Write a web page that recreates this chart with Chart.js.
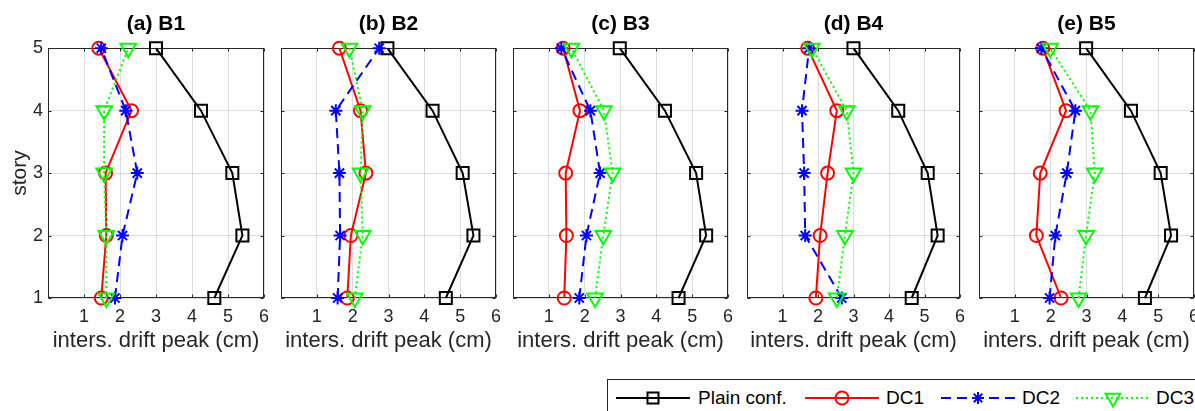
<!DOCTYPE html>
<html>
<head>
<meta charset="utf-8">
<script src="https://cdn.jsdelivr.net/npm/chart.js@4.4.1/dist/chart.umd.min.js"></script>
<style>
html, body { margin:0; padding:0; background:#fff; width:1195px; height:411px; overflow:hidden; position:relative;
  font-family:"Liberation Sans", Arial, Helvetica, sans-serif; }
canvas { position:absolute; top:0; }
#legend { position:absolute; left:607px; top:379px; width:640px; height:46px; border:1px solid #262626;
  background:#fff; box-sizing:border-box; }
#legend svg { position:absolute; top:6px; }
#legend span { position:absolute; top:6px; height:24px; line-height:24px; font-size:19px; color:#000; white-space:nowrap; }
</style>
</head>
<body>
<div id="legend"></div>
<script>
// ---------------- data ----------------
const stories = [1, 2, 3, 4, 5];
const xTickValues = [0, 1, 2, 3, 4, 5, 6];
const xTickLabels = ['', '1', '2', '3', '4', '5', '6'];
const yTickValues = [1, 2, 3, 4, 5];
const panelTitles = ['(a) B1', '(b) B2', '(c) B3', '(d) B4', '(e) B5'];
const seriesNames = ['Plain conf.', 'DC1', 'DC2', 'DC3'];
const xAxisLabel = 'inters. drift peak (cm)';
const yAxisLabel = 'story';

// values listed for story 1..5
const plain_B1 = [4.62, 5.40, 5.12, 4.25, 3.00];
const plain_B2 = [4.60, 5.37, 5.07, 4.23, 2.97];
const plain_B3 = [4.62, 5.39, 5.11, 4.24, 2.98];
const plain_B4 = [4.64, 5.37, 5.09, 4.26, 3.00];
const plain_B5 = [4.63, 5.36, 5.07, 4.24, 2.99];

const dc1_B1 = [1.48, 1.62, 1.60, 2.32, 1.41];
const dc1_B2 = [1.85, 1.95, 2.37, 2.22, 1.63];
const dc1_B3 = [1.43, 1.49, 1.47, 1.87, 1.40];
const dc1_B4 = [1.94, 2.06, 2.27, 2.53, 1.71];
const dc1_B5 = [2.29, 1.60, 1.71, 2.43, 1.78];

const dc2_B1 = [1.86, 2.07, 2.48, 2.16, 1.48];
const dc2_B2 = [1.58, 1.65, 1.63, 1.53, 2.74];
const dc2_B3 = [1.85, 2.05, 2.43, 2.16, 1.35];
const dc2_B4 = [2.67, 1.64, 1.61, 1.55, 1.75];
const dc2_B5 = [1.97, 2.13, 2.45, 2.69, 1.74];

const dc3_B1 = [1.62, 1.62, 1.56, 1.56, 2.23];
const dc3_B2 = [2.06, 2.28, 2.22, 2.28, 1.91];
const dc3_B3 = [2.29, 2.52, 2.78, 2.54, 1.63];
const dc3_B4 = [2.53, 2.76, 3.00, 2.81, 1.83];
const dc3_B5 = [2.78, 2.99, 3.23, 3.11, 1.99];

const panelSeries = [
  [plain_B1, dc1_B1, dc2_B1, dc3_B1],
  [plain_B2, dc1_B2, dc2_B2, dc3_B2],
  [plain_B3, dc1_B3, dc2_B3, dc3_B3],
  [plain_B4, dc1_B4, dc2_B4, dc3_B4],
  [plain_B5, dc1_B5, dc2_B5, dc3_B5]
];

// ---------------- styles / layout ----------------
const FONT = '"Liberation Sans", Arial, Helvetica, sans-serif';
const styles = [
  { color:'#000000', dash:[],      pointStyle:'rect',     r:8.5, rot:0 },
  { color:'#ff0000', dash:[],      pointStyle:'circle',   r:6.5, rot:0 },
  { color:'#0000ff', dash:[10,6],  pointStyle:'star',     r:6.5, rot:0 },
  { color:'#00ff00', dash:[2,3],   pointStyle:'triangle', r:9,   rot:180 }
];
const plotLeft = [48, 281, 513, 747, 979];
const plotWidth = [216, 215, 215, 213, 215];
const SIDE = 48, CANVAS_H = 360, PLOT_BOTTOM = 298;

const boxPlugin = {
  id: 'boxTicks',
  beforeDatasetsDraw(chart) {
    const { ctx, chartArea: a, scales: { x, y } } = chart;
    const L = Math.round(a.left) + 0.5, R = Math.round(a.right) - 0.5;
    const T = Math.round(a.top) + 0.5, B = Math.round(a.bottom) - 0.5;
    ctx.save();
    ctx.strokeStyle = '#262626';
    ctx.lineWidth = 1;
    ctx.strokeRect(L, T, R - L, B - T);
    ctx.beginPath();
    x.ticks.forEach(t => {
      const px = Math.round(x.getPixelForValue(t.value)) + 0.5;
      ctx.moveTo(px, B); ctx.lineTo(px, B - 3);
      ctx.moveTo(px, T); ctx.lineTo(px, T + 3);
    });
    y.ticks.forEach(t => {
      const py = Math.round(y.getPixelForValue(t.value)) + 0.5;
      ctx.moveTo(L, py); ctx.lineTo(L + 3, py);
      ctx.moveTo(R, py); ctx.lineTo(R - 3, py);
    });
    ctx.stroke();
    ctx.restore();
  }
};

panelTitles.forEach((title, i) => {
  const cv = document.createElement('canvas');
  const w = SIDE + plotWidth[i] + SIDE;
  cv.width = w; cv.height = CANVAS_H;
  cv.style.left = (plotLeft[i] - SIDE) + 'px';
  cv.style.width = w + 'px'; cv.style.height = CANVAS_H + 'px';
  document.body.insertBefore(cv, document.getElementById('legend'));

  const datasets = panelSeries[i].map((vals, k) => ({
    label: seriesNames[k],
    data: stories.map((s, j) => ({ x: vals[j], y: s })),
    showLine: true,
    borderColor: styles[k].color,
    backgroundColor: 'rgba(0,0,0,0)',
    borderWidth: 2,
    borderDash: styles[k].dash,
    pointStyle: styles[k].pointStyle,
    pointRadius: styles[k].r,
    pointRotation: styles[k].rot,
    pointBorderWidth: 2,
    pointBorderColor: styles[k].color,
    pointBackgroundColor: 'rgba(0,0,0,0)',
    pointHoverRadius: styles[k].r,
    tension: 0,
    clip: false,
    order: 3 - k
  }));

  new Chart(cv, {
    type: 'scatter',
    data: { datasets },
    options: {
      responsive: false,
      animation: false,
      devicePixelRatio: 1,
      events: [],
      layout: { padding: 0 },
      plugins: {
        legend: { display: false },
        tooltip: { enabled: false },
        title: { display: true, text: title, color: '#000',
                 font: { family: FONT, size: 21, weight: 'bold' },
                 padding: { top: 12, bottom: 11 } }
      },
      scales: {
        x: {
          type: 'linear', position: 'bottom', min: 0, max: 6,
          afterBuildTicks: s => { s.ticks = xTickValues.map(v => ({ value: v })); },
          ticks: { color: '#262626', font: { family: FONT, size: 18 }, padding: 8,
                   maxRotation: 0, autoSkip: false,
                   callback: v => xTickLabels[xTickValues.indexOf(v)] },
          grid: { color: 'rgba(0,0,0,0.13)', drawTicks: false, lineWidth: 1 },
          border: { display: false },
          title: { display: true, text: xAxisLabel, color: '#262626',
                   font: { family: FONT, size: 22 }, padding: { top: 0, bottom: 6 } },
          afterFit: s => { s.height = CANVAS_H - PLOT_BOTTOM; }
        },
        y: {
          type: 'linear', position: 'left', min: 1, max: 5,
          afterBuildTicks: s => { s.ticks = yTickValues.map(v => ({ value: v })); },
          ticks: { display: i === 0, color: '#262626', font: { family: FONT, size: 18 }, padding: 5 },
          grid: { color: 'rgba(0,0,0,0.13)', drawTicks: false, lineWidth: 1 },
          border: { display: false },
          title: { display: i === 0, text: yAxisLabel, color: '#262626',
                   font: { family: FONT, size: 21 }, padding: { top: 8, bottom: 0 } },
          afterFit: s => { s.width = SIDE; }
        },
        yRightSpace: {
          type: 'linear', position: 'right', min: 1, max: 5,
          ticks: { display: false },
          grid: { display: false, drawOnChartArea: false },
          border: { display: false },
          afterFit: s => { s.width = SIDE; }
        }
      }
    },
    plugins: [boxPlugin]
  });
});

// ---------------- legend (HTML) ----------------
const legend = document.getElementById('legend');
const sampleLeft = [8, 197, 333, 468];
const textLeft = [90, 278, 414, 548];
const SW = 74, SH = 24, CY = 12, CX = 37;
function markerSvg(k) {
  const c = styles[k].color;
  if (k === 0) return `<rect x="${CX-5.5}" y="${CY-5.5}" width="11" height="11" fill="none" stroke="${c}" stroke-width="2"/>`;
  if (k === 1) return `<circle cx="${CX}" cy="${CY}" r="6.5" fill="none" stroke="${c}" stroke-width="2"/>`;
  if (k === 2) {
    let p = '';
    for (let a = 0; a < 4; a++) {
      const ang = a * Math.PI / 4, dx = Math.cos(ang) * 6, dy = Math.sin(ang) * 6;
      p += `<line x1="${CX-dx}" y1="${CY-dy}" x2="${CX+dx}" y2="${CY+dy}" stroke="${c}" stroke-width="2"/>`;
    }
    return p;
  }
  const r = 8.5;
  const pts = [0, 1, 2].map(n => {
    const ang = Math.PI + n * 2 * Math.PI / 3;
    return `${CX + Math.sin(ang) * r},${CY - Math.cos(ang) * r}`;
  }).join(' ');
  return `<polygon points="${pts}" fill="none" stroke="${c}" stroke-width="2"/>`;
}
seriesNames.forEach((name, k) => {
  const dash = styles[k].dash.length ? `stroke-dasharray="${styles[k].dash.join(',')}"` : '';
  const svg = `<svg width="${SW}" height="${SH}" style="left:${sampleLeft[k]}px">
    <line x1="0" y1="${CY}" x2="${SW}" y2="${CY}" stroke="${styles[k].color}" stroke-width="2" ${dash}/>
    ${markerSvg(k)}</svg>`;
  legend.insertAdjacentHTML('beforeend', svg);
  const sp = document.createElement('span');
  sp.textContent = name;
  sp.style.left = textLeft[k] + 'px';
  legend.appendChild(sp);
});
</script>
</body>
</html>
